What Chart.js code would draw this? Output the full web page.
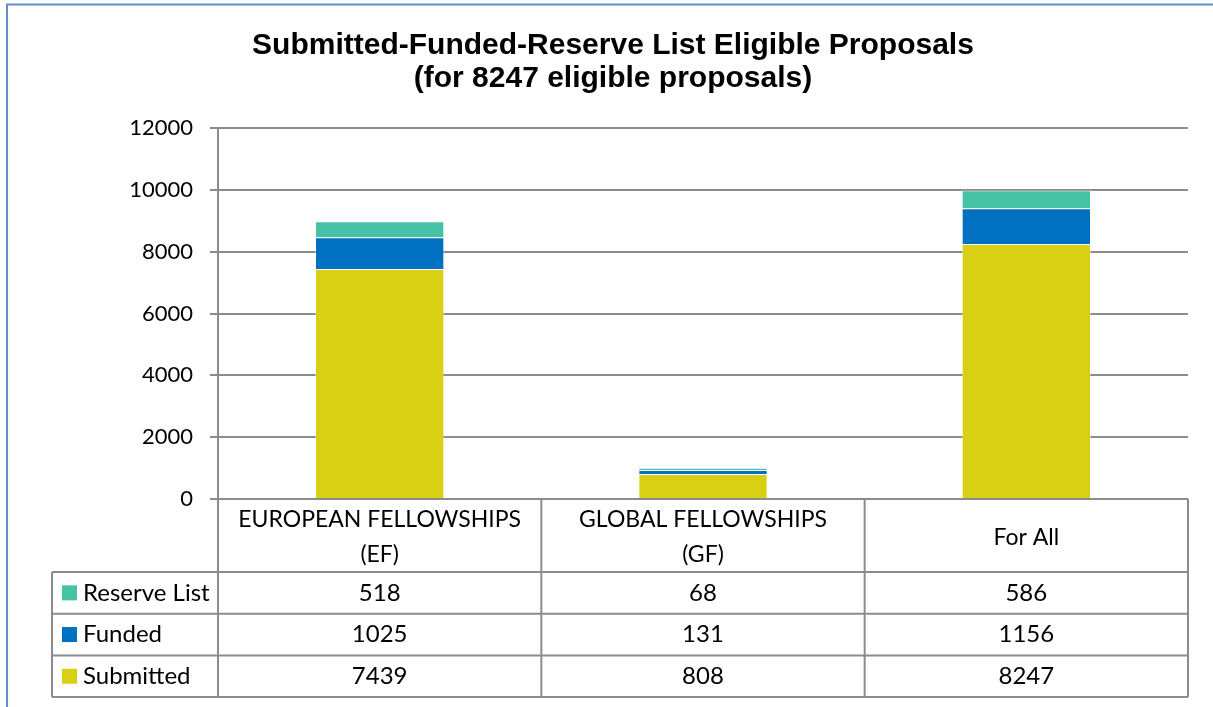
<!DOCTYPE html>
<html>
<head>
<meta charset="utf-8">
<script src="https://cdn.jsdelivr.net/npm/chart.js@4.4.1/dist/chart.umd.min.js"></script>
<style>
  html, body { margin: 0; padding: 0; background: #ffffff; }
  canvas { display: block; }
</style>
</head>
<body>
<canvas id="c" width="1213" height="707"></canvas>
<script>
// ---- Data ----
const categories = [['EUROPEAN FELLOWSHIPS', '(EF)'], ['GLOBAL FELLOWSHIPS', '(GF)'], ['For All']];
const seriesNames = ['Submitted', 'Funded', 'Reserve List'];
const submitted = [7439, 808, 8247];
const funded = [1025, 131, 1156];
const reserveList = [518, 68, 586];
const yMin = 0, yMax = 12000, yStep = 2000;
const titleLines = ['Submitted-Funded-Reserve List Eligible Proposals', '(for 8247 eligible proposals)'];

// ---- Styles ----
const colors = { 'Submitted': '#d9cf14', 'Funded': '#0070c0', 'Reserve List': '#46c2a5' };
const gridColor = '#8c8c8c';
const tableFont = '24px Lato';
const headerFont = '23px Lato';

const seriesValues = [submitted, funded, reserveList];

const tablePlugin = {
  id: 'tablePlugin',
  beforeDraw(chart) {
    const ctx = chart.ctx;
    ctx.save();
    ctx.fillStyle = '#ffffff';
    ctx.fillRect(0, 0, chart.width, chart.height);
    ctx.strokeStyle = '#5f8fcb';
    ctx.lineWidth = 2;
    ctx.beginPath();
    ctx.moveTo(7, chart.height + 5);
    ctx.lineTo(7, 4.5);
    ctx.lineTo(chart.width + 5, 4.5);
    ctx.stroke();
    ctx.restore();
  },
  afterDraw(chart) {
    const ctx = chart.ctx;
    const xs = chart.scales.x;
    const area = chart.chartArea;
    const n = categories.length;
    const colW = (xs.right - xs.left) / n;
    const legendLeft = area.left - 166;
    const headerBottom = area.bottom + 73;
    const rowH = 41.7;
    const tableBottom = headerBottom + rowH * 3;

    ctx.save();
    // title
    ctx.fillStyle = '#000000';
    ctx.font = 'bold 30px "Liberation Sans"';
    ctx.textAlign = 'center';
    ctx.textBaseline = 'alphabetic';
    titleLines.forEach((t, k) => ctx.fillText(t, 613, 54 + k * 33));

    ctx.strokeStyle = gridColor;
    ctx.lineWidth = 2;
    ctx.beginPath();
    for (let i = 0; i <= n; i++) {
      const x = xs.left + colW * i;
      ctx.moveTo(x, area.bottom);
      ctx.lineTo(x, tableBottom);
    }
    ctx.moveTo(legendLeft, headerBottom);
    ctx.lineTo(legendLeft, tableBottom);
    for (let r = 0; r <= 3; r++) {
      const y = headerBottom + rowH * r;
      ctx.moveTo(legendLeft, y);
      ctx.lineTo(xs.right, y);
    }
    ctx.stroke();

    ctx.fillStyle = '#000000';
    ctx.font = headerFont;
    ctx.textAlign = 'center';
    ctx.textBaseline = 'middle';
    categories.forEach((lines, i) => {
      const cx = xs.getPixelForValue(i);
      const midY = area.bottom + 38.5;
      const lh = 35;
      const y0 = midY - (lines.length - 1) * lh / 2;
      lines.forEach((t, k) => ctx.fillText(t, cx, y0 + k * lh));
    });
    ctx.font = tableFont;
    const order = [2, 1, 0];
    order.forEach((si, r) => {
      const cy = headerBottom + rowH * r + rowH / 2;
      const name = seriesNames[si];
      ctx.fillStyle = colors[name];
      ctx.fillRect(legendLeft + 10, cy - 7.5, 15, 15);
      ctx.fillStyle = '#000000';
      ctx.textAlign = 'left';
      ctx.fillText(name, legendLeft + 31, cy);
      ctx.textAlign = 'center';
      seriesValues[si].forEach((v, i) => {
        ctx.fillText(String(v), xs.getPixelForValue(i), cy);
      });
    });
    ctx.restore();
  }
};

new Chart(document.getElementById('c'), {
  type: 'bar',
  data: {
    labels: categories,
    datasets: seriesNames.map((name, i) => ({
      label: name,
      data: seriesValues[i],
      backgroundColor: colors[name],
      borderColor: 'rgba(255,255,255,0.35)',
      borderWidth: 1,
      categoryPercentage: 1.0,
      barPercentage: 0.4
    }))
  },
  options: {
    responsive: false,
    animation: false,
    layout: { padding: { left: 0, right: 25, top: 128, bottom: 0 } },
    plugins: {
      legend: { display: false },
      tooltip: { enabled: false },
      title: { display: false }
    },
    scales: {
      x: {
        stacked: true,
        grid: { display: false },
        border: { display: false },
        ticks: { display: false },
        afterFit(scale) { scale.height = 208; }
      },
      y: {
        stacked: true,
        min: yMin,
        max: yMax,
        ticks: {
          stepSize: yStep,
          color: '#000000',
          font: { family: 'Lato', size: 22 },
          padding: 17,
          callback: (v) => String(v)
        },
        grid: { color: gridColor, lineWidth: 2, tickLength: 8 },
        border: { display: true, color: gridColor, width: 2 },
        afterFit(scale) { scale.width = 218; }
      }
    }
  },
  plugins: [tablePlugin]
});
</script>
</body>
</html>
